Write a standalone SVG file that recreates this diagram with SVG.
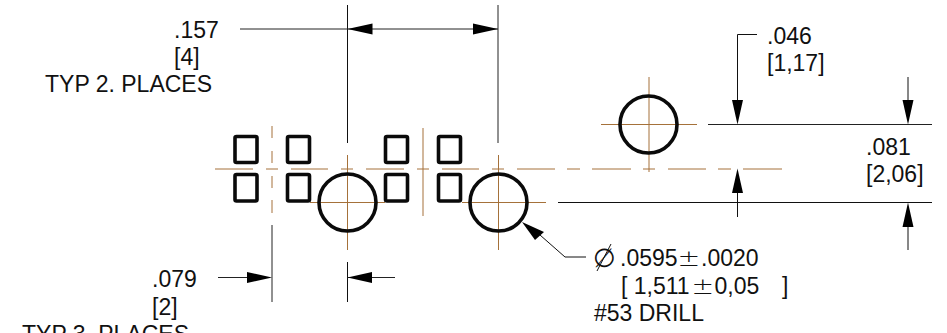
<svg xmlns="http://www.w3.org/2000/svg" width="947" height="333" viewBox="0 0 947 333">
<style>
text{font-family:"Liberation Sans",Arial,sans-serif;font-size:23px;fill:#111}
text.sym{font-family:"DejaVu Sans ExtraLight","DejaVu Sans",sans-serif;font-weight:200}
text.pm{font-size:23px}
.pad{fill:none;stroke:#0a0a0a;stroke-width:3.6}
.hole{fill:none;stroke:#0a0a0a;stroke-width:3.6}
.c{fill:none;stroke:#a5713a;stroke-width:1}
.d{fill:none;stroke:#111;stroke-width:1}
.g{fill:none;stroke:#222;stroke-width:1}
.a{fill:#000;stroke:none}
</style>
<rect width="947" height="333" fill="#fff"/>
<g id="centerlines">
<path class="c" d="M215 169H253M266 169H278M291 169H328M341 169H353M366 169H404M417 169H429M442 169H479M492 169H504M517 169H555M567 169H580M592 169H631M643 169H655M668 169H706M718 169H731M743 169H782"/>
<path class="c" d="M272 126V138M272 151V163M272 176V188M272 200V213"/>
<path class="c" d="M423 128V216"/>
<path class="c" d="M347.5 155V250M498.5 155V250M310 202.5H385M462 202.5H546"/>
<path class="c" d="M649 77V172M601 124.5H697"/>
</g>
<g id="pads">
<rect id="pad1" class="pad" x="235" y="136.5" width="22" height="26" rx="1.5"/>
<rect id="pad2" class="pad" x="235" y="174.5" width="22" height="26.5" rx="1.5"/>
<rect id="pad3" class="pad" x="287.5" y="136.5" width="22" height="26" rx="1.5"/>
<rect id="pad4" class="pad" x="287.5" y="174.5" width="22" height="26.5" rx="1.5"/>
<rect id="pad5" class="pad" x="385.5" y="136.5" width="22" height="26" rx="1.5"/>
<rect id="pad6" class="pad" x="385.5" y="174.5" width="22" height="26.5" rx="1.5"/>
<rect id="pad7" class="pad" x="438.5" y="136.5" width="22" height="26" rx="1.5"/>
<rect id="pad8" class="pad" x="438.5" y="174.5" width="22" height="26.5" rx="1.5"/>
</g>
<g id="holes">
<circle id="hole1" class="hole" cx="347.5" cy="202.5" r="28.5"/>
<circle id="hole2" class="hole" cx="498.5" cy="202.5" r="28.5"/>
<circle id="hole3" class="hole" cx="648.5" cy="124.5" r="28.5"/>
</g>
<g id="connectors">
<path class="d" d="M347.5 5V143M347.5 262V302"/>
<path class="g" d="M498 5V143M272 225V302"/>
<path class="g" d="M240 29H498M708 124.5H932"/>
<path class="d" d="M558 202.5H932"/>
<path class="d" d="M757 34.5H737.5V101"/>
<path class="d" d="M908 77V101M737.5 192V217M908 226V250"/>
<path class="g" d="M218 277.5H248M347.5 277.5H395"/>
<path class="d" d="M540 235L565 257H586"/>
<path class="d" d="M611 244L597 271"/>
<polygon class="a" points="347.5,29 372.5,23.5 372.5,34.5"/>
<polygon class="a" points="498,29 473,23.5 473,34.5"/>
<polygon class="a" points="737.5,124.5 732,100 743,100"/>
<polygon class="a" points="908,124.5 902.5,100 913.5,100"/>
<polygon class="a" points="737.5,168.5 732,193 743,193"/>
<polygon class="a" points="908,202.5 902.5,227 913.5,227"/>
<polygon class="a" points="272,277.5 247,272 247,283"/>
<polygon class="a" points="347.5,277.5 372,272 372,283"/>
<polygon class="a" points="522,222 544,232 535,240"/>
</g>
<g id="labels">
<text x="174" y="38">.157</text>
<text x="174" y="65">[4]</text>
<text x="45" y="92">TYP 2. PLACES</text>
<text x="767" y="44">.046</text>
<text x="767" y="71">[1,17]</text>
<text x="866" y="155">.081</text>
<text x="866" y="182">[2,06]</text>
<text x="152" y="287">.079</text>
<text x="152" y="315">[2]</text>
<text x="22" y="342">TYP 3. PLACES</text>
<text class="sym" x="593" y="267" style="font-size:26px">∅</text>
<text x="620" y="266">.0595</text>
<text class="sym pm" transform="translate(677.6 266) scale(1.18 1)">±</text>
<text x="701" y="266">.0020</text>
<text x="621" y="294">[ 1,511</text>
<text class="sym pm" transform="translate(691.4 294) scale(1.17 1)">±</text>
<text x="714.5" y="294">0,05</text>
<text x="782" y="294">]</text>
<text x="594" y="321">#53 DRILL</text>
</g>
</svg>
